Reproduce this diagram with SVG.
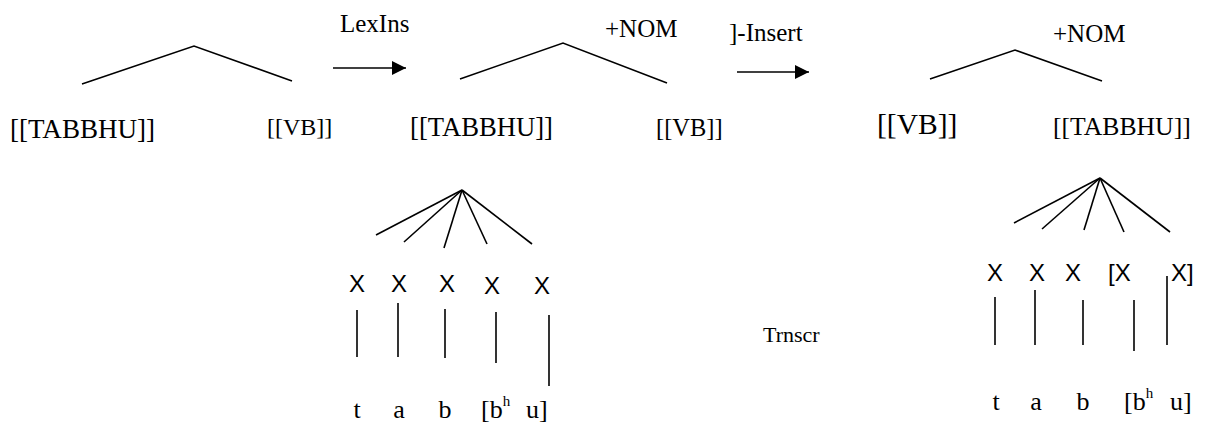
<svg xmlns="http://www.w3.org/2000/svg" width="1221" height="428" viewBox="0 0 1221 428">
  <style>
    .ln { stroke: #000; stroke-width: 1.6; fill: none; }
    .serif { font-family: "Liberation Serif", "Times New Roman", serif; fill: #000; }
    .sans { font-family: "Liberation Sans", Arial, sans-serif; fill: #000; }
    .lbl { font-size: 25px; }
    .seg { font-size: 26px; }
    .x { font-size: 24px; }
    .sup { font-size: 15px; }
  </style>
  <defs>
    <marker id="head" viewBox="0 0 14 14" refX="14" refY="7" markerWidth="14" markerHeight="14" markerUnits="userSpaceOnUse" orient="auto">
      <path d="M0,0 L14,7 L0,14 Z" fill="#000"/>
    </marker>
  </defs>

  <rect width="1221" height="428" fill="#fff"/>

  <!-- branches, association lines and rule arrows -->
  <g id="connectors">
    <!-- stage 1 tree -->
    <path class="ln" d="M82,84 L194,46 L292,81"/>
    <!-- stage 2 tree -->
    <path class="ln" d="M460,79 L563,43 L667,83"/>
    <!-- stage 3 tree -->
    <path class="ln" d="M930,79 L1015,50 L1102,81"/>
    <!-- rule arrows -->
    <line class="ln" x1="333" y1="68" x2="406" y2="68" marker-end="url(#head)"/>
    <line class="ln" x1="737" y1="72" x2="809" y2="72" marker-end="url(#head)"/>
    <!-- skeleton fan, left -->
    <line class="ln" x1="462" y1="190" x2="376" y2="235"/>
    <line class="ln" x1="462" y1="190" x2="404" y2="242"/>
    <line class="ln" x1="462" y1="190" x2="444" y2="248"/>
    <line class="ln" x1="462" y1="190" x2="487" y2="244"/>
    <line class="ln" x1="462" y1="190" x2="532" y2="244"/>
    <!-- association lines, left -->
    <line class="ln" x1="357" y1="310" x2="357" y2="357"/>
    <line class="ln" x1="398" y1="303" x2="398" y2="357"/>
    <line class="ln" x1="445" y1="309" x2="445" y2="358"/>
    <line class="ln" x1="496" y1="312" x2="496" y2="363"/>
    <line class="ln" x1="549" y1="315" x2="549" y2="386"/>
    <!-- skeleton fan, right -->
    <line class="ln" x1="1100" y1="178" x2="1014" y2="223"/>
    <line class="ln" x1="1100" y1="178" x2="1042" y2="229"/>
    <line class="ln" x1="1100" y1="178" x2="1084" y2="230"/>
    <line class="ln" x1="1100" y1="178" x2="1124" y2="232"/>
    <line class="ln" x1="1100" y1="178" x2="1170" y2="232"/>
    <!-- association lines, right -->
    <line class="ln" x1="995" y1="297" x2="995" y2="345"/>
    <line class="ln" x1="1035" y1="290" x2="1035" y2="345"/>
    <line class="ln" x1="1083" y1="300" x2="1083" y2="345"/>
    <line class="ln" x1="1134" y1="300" x2="1134" y2="351"/>
    <line class="ln" x1="1167" y1="276" x2="1167" y2="345"/>
  </g>

  <!-- rule labels -->
  <g id="rule-lexins"><text class="serif lbl" x="340" y="32">LexIns</text></g>
  <g id="rule-insert"><text class="serif lbl" x="729" y="41">]-Insert</text></g>
  <g id="rule-trnscr"><text class="serif" font-size="22" x="763" y="342">Trnscr</text></g>

  <!-- stage 1 -->
  <g id="s1-tabbhu"><text class="serif" font-size="26.5" x="10" y="138" textLength="145" lengthAdjust="spacingAndGlyphs">[[TABBHU]]</text></g>
  <g id="s1-vb"><text class="serif" font-size="24" x="267" y="135">[[VB]]</text></g>

  <!-- stage 2 -->
  <g id="s2-nom"><text class="serif lbl" x="605" y="37">+NOM</text></g>
  <g id="s2-tabbhu"><text class="serif" font-size="26.5" x="410" y="136" textLength="143" lengthAdjust="spacingAndGlyphs">[[TABBHU]]</text></g>
  <g id="s2-vb"><text class="serif" font-size="24.5" x="656" y="136">[[VB]]</text></g>

  <!-- stage 3 -->
  <g id="s3-nom"><text class="serif lbl" x="1053" y="42">+NOM</text></g>
  <g id="s3-vb"><text class="serif" font-size="29.5" x="877" y="134">[[VB]]</text></g>
  <g id="s3-tabbhu"><text class="serif" font-size="25.7" x="1053" y="135">[[TABBHU]]</text></g>

  <!-- skeleton slots, left -->
  <g id="l-x1"><text class="sans x" x="357" y="292" text-anchor="middle">X</text></g>
  <g id="l-x2"><text class="sans x" x="399" y="292" text-anchor="middle">X</text></g>
  <g id="l-x3"><text class="sans x" x="447" y="292" text-anchor="middle">X</text></g>
  <g id="l-x4"><text class="sans x" x="492" y="294" text-anchor="middle">X</text></g>
  <g id="l-x5"><text class="sans x" x="542" y="294" text-anchor="middle">X</text></g>

  <!-- segments, left -->
  <g id="l-t"><text class="serif seg" x="357" y="418" text-anchor="middle">t</text></g>
  <g id="l-a"><text class="serif seg" x="399" y="418" text-anchor="middle">a</text></g>
  <g id="l-b"><text class="serif seg" x="445" y="418" text-anchor="middle">b</text></g>
  <g id="l-bh"><text class="serif seg" x="481" y="418">[b<tspan class="sup" dy="-12">h</tspan></text></g>
  <g id="l-u"><text class="serif seg" x="526" y="418">u]</text></g>

  <!-- skeleton slots, right -->
  <g id="r-x1"><text class="sans x" x="995" y="281" text-anchor="middle">X</text></g>
  <g id="r-x2"><text class="sans x" x="1037" y="281" text-anchor="middle">X</text></g>
  <g id="r-x3"><text class="sans x" x="1073" y="281" text-anchor="middle">X</text></g>
  <g id="r-x4"><text class="sans x" x="1108" y="281">[X</text></g>
  <g id="r-x5"><text class="sans x" x="1171" y="281">X]</text></g>

  <!-- segments, right -->
  <g id="r-t"><text class="serif seg" x="996" y="410" text-anchor="middle">t</text></g>
  <g id="r-a"><text class="serif seg" x="1036" y="410" text-anchor="middle">a</text></g>
  <g id="r-b"><text class="serif seg" x="1083" y="410" text-anchor="middle">b</text></g>
  <g id="r-bh"><text class="serif seg" x="1124" y="410">[b<tspan class="sup" dy="-12">h</tspan></text></g>
  <g id="r-u"><text class="serif seg" x="1170" y="410">u]</text></g>
</svg>
